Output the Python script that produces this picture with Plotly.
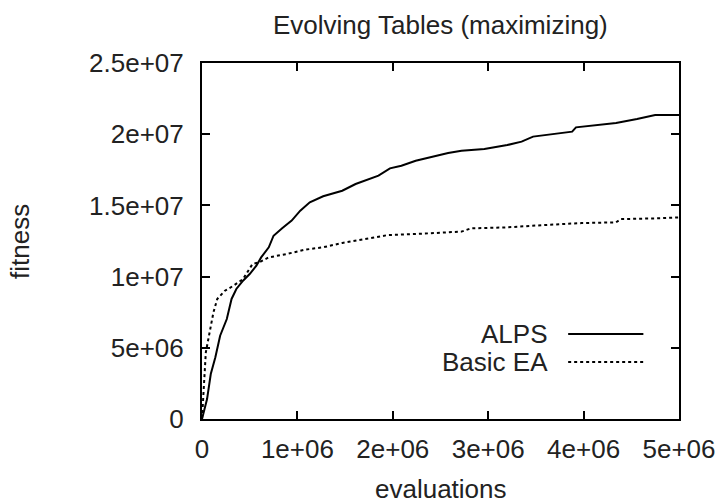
import plotly.graph_objects as go

# ALPS curve (evaluations, fitness)
alps_x = [0, 0.053e6, 0.092e6, 0.14e6, 0.19e6, 0.26e6, 0.31e6, 0.36e6, 0.43e6, 0.50e6,
          0.57e6, 0.62e6, 0.70e6, 0.75e6, 0.84e6, 0.94e6, 1.03e6, 1.13e6, 1.27e6, 1.47e6,
          1.61e6, 1.76e6, 1.85e6, 1.97e6, 2.09e6, 2.24e6, 2.38e6, 2.58e6, 2.72e6, 2.96e6,
          3.2e6, 3.35e6, 3.47e6, 3.59e6, 3.88e6, 3.92e6, 4.12e6, 4.34e6, 4.56e6, 4.75e6, 5.0e6]
alps_y = [0, 1.40e6, 3.16e6, 4.33e6, 5.85e6, 7.02e6, 8.43e6, 9.13e6, 9.71e6, 10.18e6,
          10.77e6, 11.35e6, 12.06e6, 12.87e6, 13.39e6, 13.93e6, 14.63e6, 15.22e6, 15.64e6, 16.03e6,
          16.5e6, 16.85e6, 17.09e6, 17.6e6, 17.79e6, 18.14e6, 18.38e6, 18.68e6, 18.84e6, 18.96e6,
          19.24e6, 19.48e6, 19.83e6, 19.94e6, 20.18e6, 20.48e6, 20.65e6, 20.79e6, 21.07e6, 21.35e6, 21.35e6]

# Basic EA curve
ea_x = [0, 0.02e6, 0.04e6, 0.08e6, 0.12e6, 0.16e6, 0.24e6, 0.33e6, 0.43e6, 0.53e6,
        0.60e6, 0.70e6, 0.89e6, 1.08e6, 1.27e6, 1.47e6, 1.66e6, 1.95e6, 2.24e6, 2.72e6,
        2.82e6, 3.2e6, 3.59e6, 3.98e6, 4.34e6, 4.39e6, 4.75e6, 5.0e6]
ea_y = [0, 2.57e6, 4.68e6, 6.09e6, 7.49e6, 8.43e6, 9.01e6, 9.36e6, 9.83e6, 10.89e6,
        11.0e6, 11.35e6, 11.59e6, 11.89e6, 12.06e6, 12.36e6, 12.59e6, 12.92e6, 12.99e6, 13.16e6,
        13.39e6, 13.46e6, 13.62e6, 13.76e6, 13.81e6, 14.04e6, 14.09e6, 14.16e6]

x_tickvals = [0, 1e6, 2e6, 3e6, 4e6, 5e6]
x_ticktext = ["0", "1e+06", "2e+06", "3e+06", "4e+06", "5e+06"]
y_tickvals = [0, 5e6, 1e7, 1.5e7, 2e7, 2.5e7]
y_ticktext = ["0", "5e+06", "1e+07", "1.5e+07", "2e+07", "2.5e+07"]

series_names = ["ALPS", "Basic EA"]

FONT = "Liberation Sans, Arial, Helvetica, sans-serif"
FS = 26
W, H = 728, 503
L, R, T, B = 202, 44, 63, 84

fig = go.Figure()
fig.add_trace(go.Scatter(x=alps_x, y=alps_y, mode="lines", name=series_names[0],
                         line=dict(color="black", width=2)))
fig.add_trace(go.Scatter(x=ea_x, y=ea_y, mode="lines", name=series_names[1],
                         line=dict(color="black", width=2, dash="3px,3px")))

axis_common = dict(showgrid=False, zeroline=False, showline=True, linecolor="black",
                   linewidth=2, mirror="ticks", ticks="inside", ticklen=8, tickwidth=1.5,
                   tickcolor="black", tickfont=dict(family=FONT, size=FS, color="#222"))

fig.update_xaxes(range=[0, 5e6], tickvals=x_tickvals, ticktext=x_ticktext,
                 ticklabelstandoff=6, **axis_common)
fig.update_yaxes(range=[0, 2.5e7], tickvals=y_tickvals, ticktext=y_ticktext,
                 ticklabelstandoff=11, **axis_common)

pw = W - L - R
ph = H - T - B

def px_x(p):
    return (p - L) / pw

def px_y(p):
    return (H - B - p) / ph

annotations = [
    dict(text="Evolving Tables (maximizing)", xref="paper", yref="paper",
         x=0.5, y=px_y(25), xanchor="center", yanchor="middle", showarrow=False,
         font=dict(family=FONT, size=FS, color="#222")),
    dict(text="fitness", xref="paper", yref="paper", x=px_x(18), y=0.5,
         xanchor="center", yanchor="middle", textangle=-90, showarrow=False,
         font=dict(family=FONT, size=FS, color="#222")),
    dict(text="evaluations", xref="paper", yref="paper", x=0.5, y=px_y(489),
         xanchor="center", yanchor="middle", showarrow=False,
         font=dict(family=FONT, size=FS, color="#222")),
]
shapes = []
leg_y = [334, 362]
leg_dash = ["solid", "3px,3px"]
for name, yy, d in zip(series_names, leg_y, leg_dash):
    annotations.append(dict(text=name, xref="paper", yref="paper", x=px_x(554), y=px_y(yy),
                            xanchor="right", yanchor="middle", showarrow=False,
                            font=dict(family=FONT, size=FS, color="#222")))
    shapes.append(dict(type="line", xref="paper", yref="paper", x0=px_x(572), x1=px_x(648),
                       y0=px_y(yy), y1=px_y(yy), line=dict(color="black", width=2, dash=d)))

fig.update_layout(width=W, height=H, margin=dict(l=L, r=R, t=T, b=B),
                  paper_bgcolor="white", plot_bgcolor="white", showlegend=False,
                  annotations=annotations, shapes=shapes)

fig.write_html("out.html")
